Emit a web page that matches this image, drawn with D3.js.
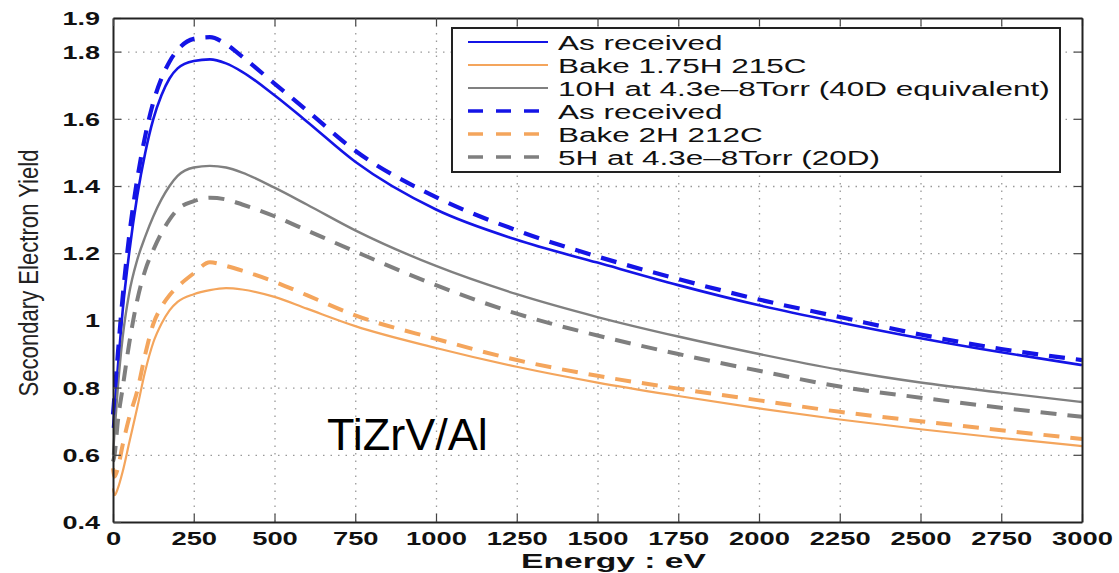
<!DOCTYPE html>
<html>
<head>
<meta charset="utf-8">
<script src="https://cdn.jsdelivr.net/npm/d3@7"></script>
<style>
  body { margin: 0; background: #fff; }
  text { font-family: "Liberation Sans", Arial, sans-serif; }
</style>
</head>
<body>
<div id="chart"></div>
<script>
// energy grid (eV) shared by all curves
var energy = [0, 5, 15, 30, 50, 75, 100, 125, 150, 175, 200, 250, 300, 350, 400, 500, 600, 750, 1000, 1250, 1500, 1750, 2000, 2250, 2500, 2750, 3000];

// solid curves
var asReceived1 = [0.68, 0.74, 0.86, 1.03, 1.2, 1.37, 1.5, 1.6, 1.67, 1.72, 1.75, 1.772, 1.777, 1.765, 1.74, 1.67, 1.592, 1.472, 1.33, 1.24, 1.172, 1.105, 1.045, 0.994, 0.947, 0.905, 0.867];
var bake175 = [0.5, 0.48, 0.5, 0.55, 0.635, 0.74, 0.85, 0.935, 0.99, 1.03, 1.055, 1.078, 1.09, 1.096, 1.092, 1.07, 1.035, 0.983, 0.918, 0.862, 0.815, 0.775, 0.738, 0.705, 0.676, 0.65, 0.626];
var torr10H = [0.6, 0.67, 0.8, 0.95, 1.08, 1.18, 1.25, 1.31, 1.36, 1.4, 1.43, 1.455, 1.46, 1.455, 1.44, 1.395, 1.345, 1.268, 1.162, 1.078, 1.01, 0.952, 0.9, 0.853, 0.815, 0.785, 0.757];
// dashed curves
var asReceived2 = [0.72, 0.78, 0.9, 1.07, 1.25, 1.42, 1.55, 1.65, 1.72, 1.77, 1.805, 1.838, 1.843, 1.822, 1.785, 1.705, 1.625, 1.505, 1.367, 1.268, 1.19, 1.123, 1.062, 1.01, 0.958, 0.915, 0.882];
var bake2H = [0.56, 0.535, 0.56, 0.63, 0.71, 0.79, 0.9, 0.99, 1.04, 1.075, 1.1, 1.14, 1.173, 1.162, 1.148, 1.115, 1.075, 1.015, 0.945, 0.882, 0.835, 0.797, 0.762, 0.728, 0.7, 0.673, 0.647];
var torr5H = [0.58, 0.6, 0.7, 0.8, 0.93, 1.06, 1.15, 1.21, 1.26, 1.3, 1.33, 1.355, 1.365, 1.36, 1.345, 1.31, 1.268, 1.205, 1.105, 1.02, 0.955, 0.9, 0.85, 0.803, 0.77, 0.74, 0.713];

var seriesNames = ["As received", "Bake 1.75H 215C", "10H at 4.3e\u20138Torr (40D equivalent)",
                   "As received", "Bake 2H 212C", "5H at 4.3e\u20138Torr (20D)"];
var xTicks = [0, 250, 500, 750, 1000, 1250, 1500, 1750, 2000, 2250, 2500, 2750, 3000];
var yTicks = [0.4, 0.6, 0.8, 1, 1.2, 1.4, 1.6, 1.8, 1.9];
var gridY = [0.6, 0.8, 1, 1.2, 1.4, 1.6, 1.8];

function drawGraph(id){
    var margin = {top: 18, right: 37, bottom: 51, left: 113},
        width = 1119 - margin.left - margin.right,
        height = 573 - margin.top - margin.bottom;

    var x = d3.scaleLinear().domain([0, 3000]).range([0, width]);
    var y = d3.scaleLinear().domain([0.4, 1.9]).range([height, 0]);

    var svg = d3.select(`#${id}`)
                .append("svg")
                .attr("width", width + margin.left + margin.right)
                .attr("height", height + margin.top + margin.bottom)
                .append("g")
                .attr("transform", "translate(" + margin.left + "," + margin.top + ")");

    // dotted grid
    svg.append("g")
       .attr("class", "grid")
       .attr("transform", "translate(0," + height + ")")
       .call(d3.axisBottom(x).tickValues(xTicks.slice(1, -1)).tickSize(-height).tickFormat(""));
    svg.append("g")
       .attr("class", "grid")
       .call(d3.axisLeft(y).tickValues(gridY).tickSize(-width).tickFormat(""));
    svg.selectAll(".grid .domain").remove();
    svg.selectAll(".grid line")
       .attr("stroke", "#999")
       .attr("stroke-width", 1.3)
       .attr("stroke-dasharray", "1.5,6");

    // curves
    var series = [
        {vals: asReceived1, color: "#1414e6", w: 2.6, dash: null},
        {vals: bake175, color: "#f4a55c", w: 2.2, dash: null},
        {vals: torr10H, color: "#808080", w: 2.4, dash: null},
        {vals: asReceived2, color: "#1414e6", w: 4.2, dash: "16,11"},
        {vals: bake2H, color: "#f4a55c", w: 4, dash: "16,11"},
        {vals: torr5H, color: "#7f7f7f", w: 4, dash: "16,11"}
    ];

    var line = d3.line()
                 .x(function(d, i){ return x(energy[i]); })
                 .y(function(d){ return y(d); })
                 .curve(d3.curveMonotoneX);

    svg.selectAll("path.curve")
       .data(series)
       .enter()
       .append("path")
       .attr("class", "curve")
       .attr("d", function(d){ return line(d.vals); })
       .attr("fill", "none")
       .attr("stroke", function(d){ return d.color; })
       .attr("stroke-width", function(d){ return d.w; })
       .attr("stroke-dasharray", function(d){ return d.dash; });

    // axes with inward ticks on all four sides
    var bottomAxis = svg.append("g")
       .attr("transform", "translate(0," + height + ")")
       .call(d3.axisBottom(x).tickValues(xTicks).tickFormat(d3.format("d")).tickSizeInner(-8).tickSizeOuter(0));
    bottomAxis.selectAll("text")
       .attr("y", 0).attr("dy", null)
       .attr("transform", "translate(0,23) scale(1.52,1)")
       .style("font-size", "18px").style("font-weight", "bold").attr("fill", "#111");

    var leftAxis = svg.append("g")
       .call(d3.axisLeft(y).tickValues(yTicks).tickFormat(d3.format("~g")).tickSizeInner(-8).tickSizeOuter(0));
    leftAxis.selectAll("text")
       .attr("x", 0).attr("dy", "0.36em")
       .attr("transform", "translate(-13,0) scale(1.5,1)")
       .style("font-size", "18px").style("font-weight", "bold").attr("fill", "#111");

    svg.append("g")
       .call(d3.axisTop(x).tickValues(xTicks).tickSizeInner(-8).tickSizeOuter(0).tickFormat(""));
    svg.append("g")
       .attr("transform", "translate(" + width + ",0)")
       .call(d3.axisRight(y).tickValues(gridY).tickSizeInner(-8).tickSizeOuter(0).tickFormat(""));

    svg.selectAll(".domain").attr("stroke", "#222").attr("stroke-width", 2);
    svg.selectAll(".tick line").filter(function(){ return !this.parentNode.parentNode.classList.contains("grid"); })
       .attr("stroke", "#444").attr("stroke-width", 1.2);

    // axis labels
    svg.append("text")
       .attr("text-anchor", "middle")
       .attr("transform", "translate(" + (width/2 + 16) + "," + (height + 46) + ") scale(1.6,1)")
       .style("font-size", "21px")
       .style("font-weight", "bold")
       .attr("fill", "#111")
       .text("Energy : eV");

    svg.append("text")
       .attr("text-anchor", "middle")
       .attr("transform", "translate(" + (-margin.left + 38) + "," + (height/2 + 3) + ") rotate(-90) scale(0.79,1)")
       .style("font-size", "28px")
       .attr("fill", "#222")
       .text("Secondary Electron Yield");

    svg.append("text")
       .attr("x", 327 - margin.left)
       .attr("y", 450 - margin.top)
       .style("font-size", "45px")
       .attr("fill", "#000")
       .text("TiZrV/Al");

    // legend
    var legend = svg.append("g").attr("transform", "translate(" + (452 - margin.left) + "," + (28 - margin.top) + ")");
    legend.append("rect")
          .attr("width", 608).attr("height", 144)
          .attr("fill", "#fff").attr("stroke", "#222").attr("stroke-width", 2);
    var rows = legend.selectAll("g.row")
          .data(series)
          .enter()
          .append("g")
          .attr("class", "row")
          .attr("transform", function(d, i){ return "translate(0," + (14 + i * 23) + ")"; });
    rows.append("line")
        .attr("x1", 16).attr("x2", 96)
        .attr("stroke", function(d){ return d.color; })
        .attr("stroke-width", function(d){ return d.dash ? 3.6 : 2.2; })
        .attr("stroke-dasharray", function(d){ return d.dash ? "15,13" : null; });
    rows.append("text")
        .attr("transform", "translate(106,7.5) scale(1.5,1)")
        .style("font-size", "21px")
        .attr("fill", "#111")
        .text(function(d, i){ return seriesNames[i]; });

    return svg;
}

drawGraph("chart");
</script>
</body>
</html>
